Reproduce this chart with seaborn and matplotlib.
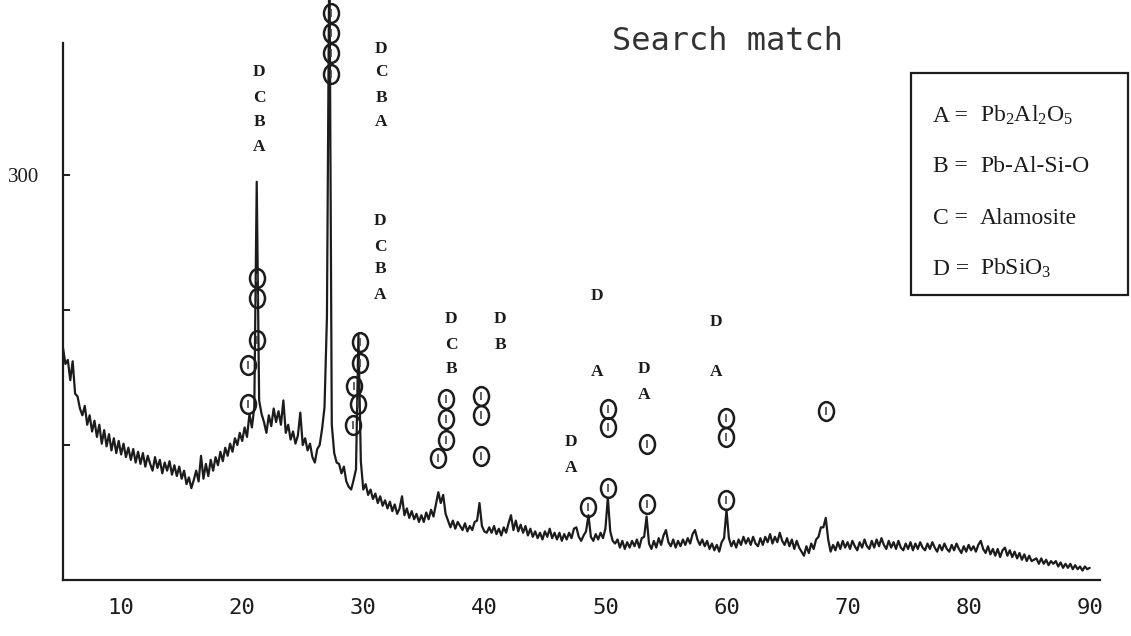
import numpy as np
import matplotlib
matplotlib.use("Agg")
import matplotlib.pyplot as plt
from matplotlib.path import Path
from matplotlib.patches import Rectangle
from matplotlib.ticker import MultipleLocator, FixedLocator
import seaborn as sns

# ---- diffraction scan (2-theta step 0.2 deg) ----
two_theta = np.round(np.arange(5.2, 90.0001, 0.2), 1)
counts = [
    172, 160, 163, 148,                 # 5.2 - 5.8
    162, 138, 136, 127, 122,            # 6
    129, 115, 122, 110, 118,            # 7
    106, 115, 101, 111, 99,             # 8
    108, 96, 105, 94, 103,              # 9
    93, 101, 91, 98, 89,                # 10
    97, 87, 95, 86, 94,                 # 11
    84, 92, 86, 81, 91,                 # 12
    83, 89, 79, 87, 81,                 # 13
    88, 78, 85, 77, 84,                 # 14
    75, 81, 71, 76, 68,                 # 15
    74, 81, 73, 92, 75,                 # 16
    86, 77, 89, 81, 91,                 # 17
    85, 95, 88, 98, 92,                 # 18
    101, 95, 105, 100, 109,             # 19
    103, 113, 106, 123, 113,            # 20
    128, 295, 133, 123, 117,            # 21
    109, 122, 114, 127, 117,            # 22
    125, 115, 133, 109, 115,            # 23
    104, 110, 101, 107, 124,            # 24
    100, 105, 96, 101, 91,              # 25
    87, 97, 100, 112, 128,              # 26
    195, 475, 115, 94, 87,              # 27
    86, 79, 84, 73, 69,                 # 28
    67, 74, 82, 182, 88,                # 29
    67, 71, 63, 67, 60,                 # 30
    64, 57, 62, 55, 59,                 # 31
    53, 58, 51, 56, 49,                 # 32
    53, 62, 48, 53, 46,                 # 33
    51, 45, 49, 43, 48,                 # 34
    43, 50, 45, 52, 47,                 # 35
    56, 65, 57, 63, 49,                 # 36
    44, 39, 44, 38, 43,                 # 37
    40, 37, 42, 36, 40,                 # 38
    37, 43, 44, 57, 40,                 # 39
    36, 35, 39, 35, 40,                 # 40
    34, 38, 33, 39, 35,                 # 41
    42, 48, 37, 44, 36,                 # 42
    41, 35, 40, 33, 38,                 # 43
    32, 36, 31, 35, 30,                 # 44
    36, 32, 38, 31, 35,                 # 45
    30, 35, 29, 34, 30,                 # 46
    35, 31, 38, 39, 32,                 # 47
    29, 33, 36, 48, 32,                 # 48
    29, 34, 30, 35, 31,                 # 49
    38, 61, 36, 29, 27,                 # 50
    30, 24, 29, 23, 28,                 # 51
    24, 29, 25, 30, 24,                 # 52
    31, 32, 47, 27, 23,                 # 53
    29, 24, 31, 26, 33,                 # 54
    37, 28, 25, 30, 24,                 # 55
    29, 25, 30, 26, 31,                 # 56
    27, 34, 37, 30, 26,                 # 57
    30, 25, 29, 23, 27,                 # 58
    22, 26, 21, 28, 31,                 # 59
    52, 31, 25, 29, 24,                 # 60
    30, 26, 32, 27, 31,                 # 61
    26, 32, 27, 25, 31,                 # 62
    26, 32, 28, 34, 27,                 # 63
    32, 28, 35, 29, 26,                 # 64
    31, 25, 30, 23, 29,                 # 65
    24, 21, 18, 25, 20,                 # 66
    27, 23, 30, 32, 39,                 # 67
    39, 46, 30, 21, 26,                 # 68
    22, 28, 23, 29, 24,                 # 69
    28, 23, 29, 25, 22,                 # 70
    28, 24, 30, 25, 23,                 # 71
    29, 24, 30, 25, 31,                 # 72
    26, 23, 29, 24, 28,                 # 73
    23, 29, 24, 22, 27,                 # 74
    23, 28, 22, 27, 23,                 # 75
    28, 24, 22, 27, 23,                 # 76
    28, 24, 21, 26, 22,                 # 77
    27, 23, 21, 26, 22,                 # 78
    27, 23, 20, 25, 21,                 # 79
    26, 22, 25, 21, 26,                 # 80
    29, 23, 20, 25, 19,                 # 81
    23, 18, 23, 17, 22,                 # 82
    24, 18, 22, 17, 21,                 # 83
    16, 20, 15, 19, 14,                 # 84
    18, 14, 15, 16, 12,                 # 85
    16, 12, 15, 11, 14,                 # 86
    12, 14, 10, 13, 9,                  # 87
    12, 9, 12, 8, 11,                   # 88
    8, 10, 7, 10, 8,                    # 89
    9,                                  # 90
]

# ---- circled peak markers (2-theta, counts) ----
mark_2theta = [21.23, 21.23, 21.23, 20.49, 20.49,
               27.3, 27.3, 27.3, 27.3,
               29.75, 29.75, 29.24, 29.57, 29.16,
               36.8, 36.8, 36.8, 36.2,
               39.7, 39.7, 39.7,
               48.6,
               50.2, 50.2, 50.2,
               53.4, 53.4,
               60.0, 60.0, 60.0,
               68.2]
mark_counts = [224, 209, 178, 159, 130,
               420, 405, 390, 375,
               176, 161, 144, 130, 115,
               134, 119, 104, 90,
               136, 122, 92,
               54,
               127, 113, 68,
               101, 56,
               120, 106, 59,
               125]

# ---- phase letters above peaks ----
letter_text = ["D", "C", "B", "A",
               "D", "C", "B", "A",
               "D", "C", "B", "A",
               "D", "C", "B",
               "D", "B",
               "D", "A",
               "D", "A",
               "D", "A",
               "D", "A"]
letter_2theta = [21.4] * 4 + [31.47] * 4 + [31.39] * 4 + [37.25] * 3 + [41.3] * 2 \
    + [49.3] * 2 + [53.2] * 2 + [59.13] * 2 + [47.16] * 2
letter_counts = [376, 357, 339, 321,
                 393, 376, 357, 339,
                 266, 247, 230, 211,
                 193, 174, 156,
                 193, 174,
                 210, 154,
                 156, 137,
                 191, 154,
                 102, 83]

legend_keys = ["A =", "B =", "C =", "D ="]
legend_phases = [r"Pb$_2$Al$_2$O$_5$", "Pb-Al-Si-O", "Alamosite", r"PbSiO$_3$"]

x_major = [10, 20, 30, 40, 50, 60, 70, 80, 90]
y_major = [100, 200, 300]
y_labels = ["", "", "300"]
title = "Search match"

# ---- style ----
sns.set_style("white")
plt.rcParams["font.family"] = ["Liberation Serif", "DejaVu Serif"]
plt.rcParams["mathtext.fontset"] = "custom"
plt.rcParams["mathtext.rm"] = "Liberation Serif"
plt.rcParams["mathtext.it"] = "Liberation Serif:italic"
ink = "#1c1c1c"

W, H = 1131, 636
fig = plt.figure(figsize=(W / 100, H / 100), dpi=100)
fig.patch.set_facecolor("white")
ax = fig.add_axes([63 / W, 56 / H, 1037 / W, 580 / H])
ax.set_facecolor("white")

sns.lineplot(x=two_theta, y=counts, ax=ax, color=ink, linewidth=1.6,
             estimator=None, sort=False)

# elliptical peak markers with a small inner stroke
ell = Path.unit_circle()
ell = Path(ell.vertices * np.array([0.8, 1.0]), ell.codes)
ax.plot(mark_2theta, mark_counts, linestyle="none", marker=ell,
        markersize=13.5, markerfacecolor="none", markeredgecolor=ink,
        markeredgewidth=1.8, clip_on=False)
ax.plot(mark_2theta, mark_counts, linestyle="none", marker="|",
        markersize=6, markeredgecolor="#444444", markeredgewidth=1.2,
        clip_on=False)

for t, x, y in zip(letter_text, letter_2theta, letter_counts):
    ax.text(x, y, t, ha="center", va="center", fontsize=12.5,
            fontweight="bold", color=ink, family=["Liberation Serif"])

ax.set_xlim(5.2, 90.85)
ax.set_ylim(0, 429.6)

for s in ("top", "right"):
    ax.spines[s].set_visible(False)
ax.spines["left"].set_bounds(0, 398)
for s in ("left", "bottom"):
    ax.spines[s].set_color(ink)
    ax.spines[s].set_linewidth(1.6)

ax.xaxis.set_major_locator(FixedLocator(x_major))
ax.xaxis.set_minor_locator(MultipleLocator(1))
ax.set_xticklabels([str(v) for v in x_major], family="DejaVu Sans Mono",
                   fontsize=16, color=ink)
ax.tick_params(axis="x", which="major", direction="out", length=12,
               width=1.4, color=ink, pad=1)
ax.tick_params(axis="x", which="minor", direction="out", length=7,
               width=1.3, color=ink)

ax.set_yticks(y_major)
ax.set_yticklabels(y_labels, fontsize=15, color=ink)
ax.tick_params(axis="y", which="major", direction="in", length=5,
               width=1.4, color=ink, pad=17, left=True)
ax.set_xlabel("")
ax.set_ylabel("")
ax.grid(False)

fig.text(612 / W, 1 - 50 / H, title, family="DejaVu Sans Mono", fontsize=23,
         color="#333333", ha="left", va="baseline")

fig.add_artist(Rectangle((911 / W, 1 - 295 / H), 217 / W, 222 / H,
                         transform=fig.transFigure, fill=False,
                         edgecolor=ink, linewidth=1.6))
for i, (k, p) in enumerate(zip(legend_keys, legend_phases)):
    yb = 1 - [122, 172, 224, 275][i] / H
    fig.text(933 / W, yb, k, fontsize=17, color=ink, ha="left", va="baseline")
    fig.text(980 / W, yb, p, fontsize=17, color=ink, ha="left", va="baseline")

fig.savefig("out.png", dpi=100, facecolor="white")
